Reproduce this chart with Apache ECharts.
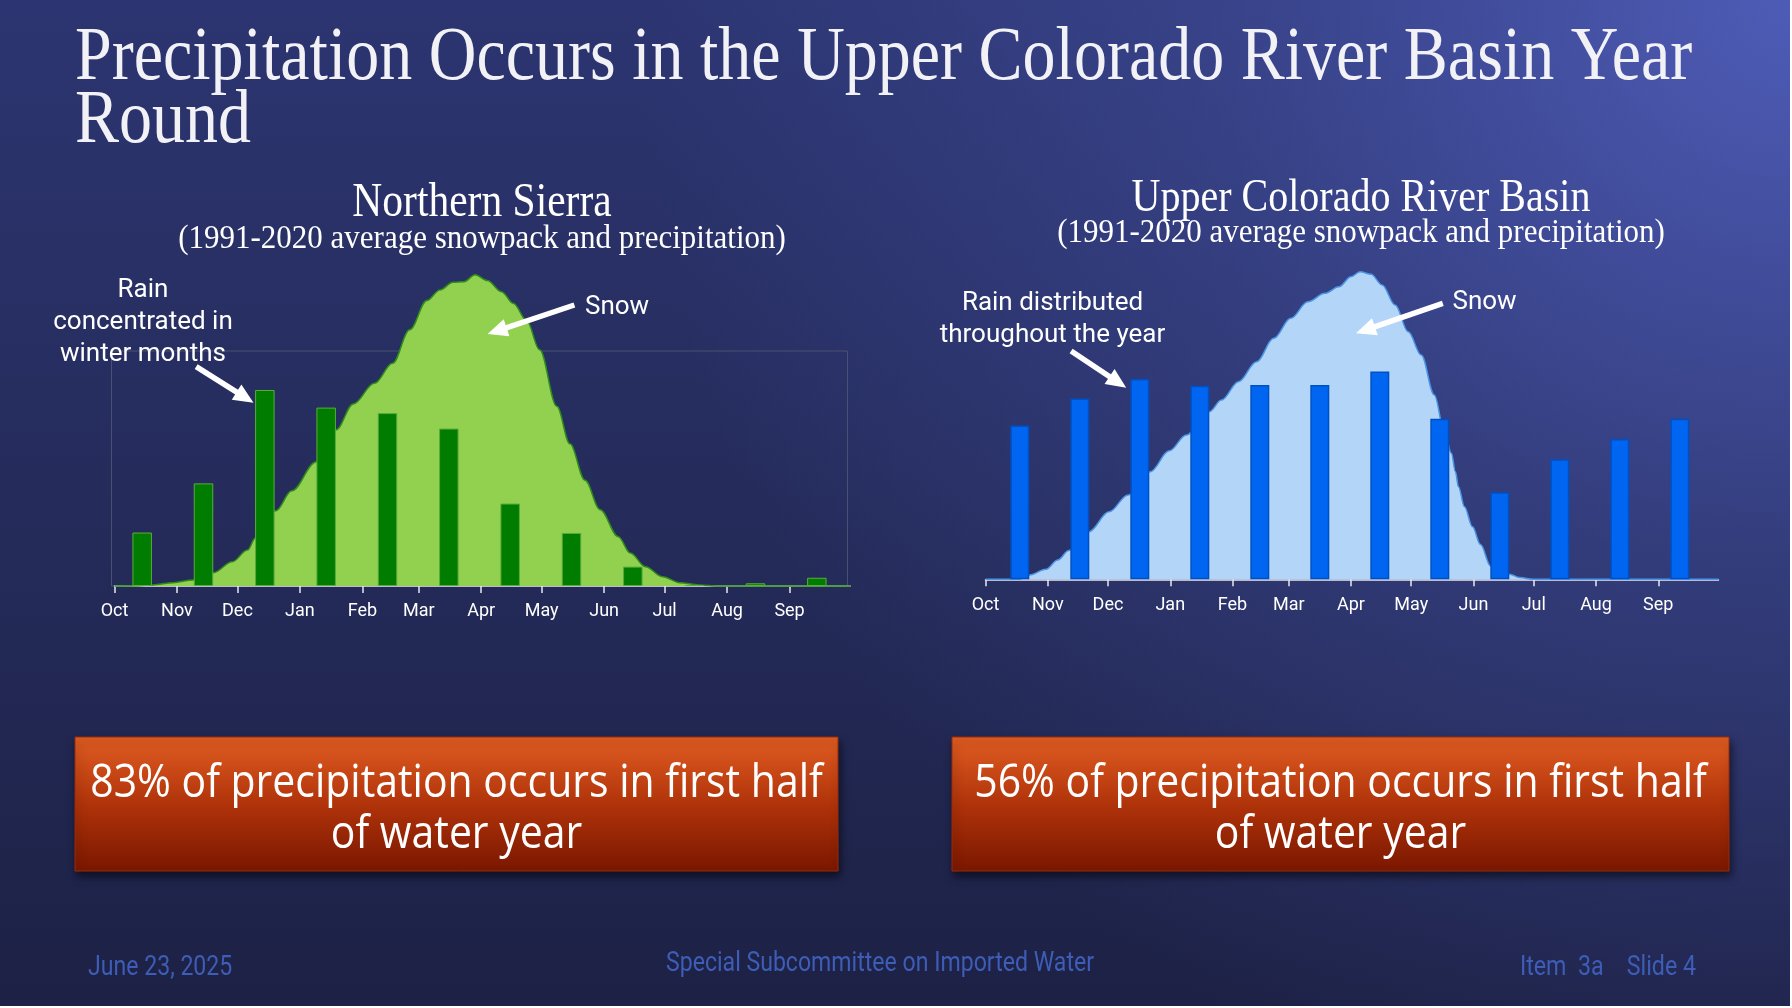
<!DOCTYPE html>
<html>
<head>
<meta charset="utf-8">
<title>Precipitation Occurs in the Upper Colorado River Basin Year Round</title>
<script src="https://cdn.jsdelivr.net/npm/echarts@6/dist/echarts.min.js"></script>
<style>
  html, body { margin: 0; padding: 0; background: #ffffff; }
  #chart { width: 1790px; height: 1006px; }
</style>
</head>
<body>
<div id="chart"></div>
<script>
// water year months and the day (from Oct 1) on which each one starts
const months = ['Oct', 'Nov', 'Dec', 'Jan', 'Feb', 'Mar', 'Apr', 'May', 'Jun', 'Jul', 'Aug', 'Sep'];
const monthStartDay = [0, 31, 61, 92, 123, 151, 182, 212, 243, 273, 304, 335];

// monthly precipitation, inches (1991-2020 average)
const sierraRain = [2.73, 5.24, 10.01, 9.11, 8.83, 8.04, 4.21, 2.71, 0.99, 0.05, 0.14, 0.42];
const coloradoRain = [2.05, 2.41, 2.67, 2.58, 2.59, 2.59, 2.77, 2.14, 1.16, 1.60, 1.87, 2.14];

// snowpack, inches of water, [day of water year, value]
const sierraSnow = [
  [0, 0], [12, 0.02], [19, 0.09], [29, 0.28], [39, 0.51], [49, 1.13], [58.5, 2.07],
  [66, 3.06], [70, 4.1], [80, 6.4], [88, 8.1], [100, 10.55], [110, 13.3], [118.5, 15.5],
  [129, 17.25], [138, 18.95], [146.5, 21.8], [155, 24.3], [161.5, 25.2], [168, 25.85],
  [173.5, 25.9], [179, 26.5], [185, 26.0], [192, 25.05], [198, 24.05], [204.5, 22.6],
  [211, 20.1], [219.5, 15.3], [226, 12.1], [233.5, 9.0], [241, 6.5], [250, 4.2],
  [256, 2.8], [263.5, 1.64], [272, 0.79], [280.5, 0.28], [290, 0.09], [300, 0], [365, 0]
];
const coloradoSnow = [
  [0, 0], [17, 0], [22, 0.23], [30, 0.53], [36, 1.03], [41.5, 1.53], [51.5, 2.54],
  [61.5, 3.6], [71, 4.5], [82, 5.74], [91.5, 6.85], [100, 7.7], [111.5, 8.94],
  [117.5, 9.56], [126, 10.54], [135, 11.6], [143.5, 12.85], [152, 13.92], [160.5, 14.8],
  [169, 15.25], [176, 15.6], [182, 16.14], [186.5, 16.4], [192, 16.27], [197.5, 15.7],
  [204, 14.63], [210.5, 13.2], [217, 11.96], [223.5, 9.83], [228.5, 7.87], [232, 6.72],
  [234, 5.74], [235.5, 4.94], [238.5, 3.87], [242.5, 2.8], [246.5, 1.85], [251.5, 0.71],
  [256, 0.4], [261, 0.27], [266, 0.09], [273, 0], [365, 0]
];

const chart = echarts.init(document.getElementById('chart'));

const SERIF = "'Liberation Serif', 'DejaVu Serif', serif";
const SANS = "Roboto, 'Noto Sans', sans-serif";
const BOXFONT = "'Open Sans', 'Noto Sans', sans-serif";
const footerColor = '#3d5db6';

// white arrow: shaft + filled head, tip at (x2, y2)
function arrow(x1, y1, x2, y2) {
  const dx = x2 - x1, dy = y2 - y1;
  const len = Math.sqrt(dx * dx + dy * dy);
  const ux = dx / len, uy = dy / len;
  const headLen = 20, headW = 9;
  const bx = x2 - ux * headLen, by = y2 - uy * headLen;
  return [
    {
      type: 'line', z: 20,
      shape: { x1: x1, y1: y1, x2: bx + ux * 2, y2: by + uy * 2 },
      style: { stroke: '#ffffff', lineWidth: 5.5 }
    },
    {
      type: 'polygon', z: 20,
      shape: { points: [[x2, y2], [bx - uy * headW, by + ux * headW], [bx + uy * headW, by - ux * headW]] },
      style: { fill: '#ffffff' }
    }
  ];
}

// text placed at (x, y); sx / sy stretch it around that anchor
function txt(text, x, y, size, family, opts, sx, sy) {
  return {
    type: 'text', z: 20,
    x: x, y: y, scaleX: sx || 1, scaleY: sy || 1,
    style: Object.assign({
      text: text, x: 0, y: 0,
      fill: '#ffffff',
      fontSize: size, fontFamily: family,
      align: 'center', verticalAlign: 'middle'
    }, opts || {})
  };
}

function box(x, y, w, h) {
  return {
    type: 'rect', z: 10,
    shape: { x: x, y: y, width: w, height: h },
    style: {
      fill: new echarts.graphic.LinearGradient(0, 0, 0, 1, [
        { offset: 0, color: '#e15d22' },
        { offset: 0.5, color: '#b0330a' },
        { offset: 1, color: '#7a1700' }
      ]),
      stroke: '#9a2a0a', lineWidth: 1,
      shadowColor: 'rgba(0,0,0,0.55)', shadowBlur: 8, shadowOffsetX: 2, shadowOffsetY: 5
    }
  };
}

const boxText = {
  lineHeight: 51,
  shadowColor: 'rgba(0,0,0,0.6)', shadowBlur: 3, shadowOffsetX: 2, shadowOffsetY: 2
};

function monthAxis(gridIndex, margin) {
  return {
    type: 'value', gridIndex: gridIndex, min: 0, max: 365,
    axisLine: { show: true, lineStyle: { color: '#e8e8f0', width: 1.5 } },
    axisTick: { show: true, customValues: monthStartDay, length: 7, lineStyle: { color: '#e8e8f0', width: 1.5 } },
    axisLabel: {
      customValues: monthStartDay, margin: margin,
      color: '#ffffff', fontSize: 18, fontFamily: SANS,
      formatter: function (v) { return months[monthStartDay.indexOf(v)]; }
    },
    splitLine: { show: false }
  };
}

function barAxis(gridIndex) {
  return { type: 'category', gridIndex: gridIndex, data: months, show: false, boundaryGap: true };
}

function hiddenY(gridIndex, max) {
  return { type: 'value', gridIndex: gridIndex, min: 0, max: max, show: false, splitLine: { show: false } };
}

const option = {
  backgroundColor: {
    type: 'linear', x: 0, y: 0, x2: 0, y2: 1,
    colorStops: [
      { offset: 0, color: '#2c3571' },
      { offset: 0.55, color: '#242b59' },
      { offset: 1, color: '#1d2145' }
    ]
  },
  animation: false,
  grid: [
    // Northern Sierra: bars + frame, then snow + month axis
    { left: 111.5, top: 351, width: 736, height: 235, show: true, borderColor: '#4a5170', borderWidth: 1, backgroundColor: 'transparent' },
    { left: 114.5, top: 351, width: 735.5, height: 235 },
    // Upper Colorado: bars, then snow + month axis
    { left: 989.8, top: 279.3, width: 720, height: 300 },
    { left: 985.5, top: 279.3, width: 733, height: 300 }
  ],
  xAxis: [barAxis(0), monthAxis(1, 16), barAxis(2), monthAxis(3, 17)],
  yAxis: [hiddenY(0, 12), hiddenY(1, 20), hiddenY(2, 4), hiddenY(3, 16)],
  series: [
    {
      name: 'Sierra snow', type: 'line', xAxisIndex: 1, yAxisIndex: 1, z: 1,
      data: sierraSnow, showSymbol: false, smooth: 0.35, smoothMonotone: 'x', clip: false,
      lineStyle: { color: '#2f8c1c', width: 1.5 },
      areaStyle: { color: '#92d050', opacity: 1 }
    },
    {
      name: 'Sierra rain', type: 'bar', xAxisIndex: 0, yAxisIndex: 0, z: 3,
      data: sierraRain, barWidth: 19.5,
      itemStyle: { color: '#007c00', borderColor: '#5cab3c', borderWidth: 1 }
    },
    {
      name: 'Colorado snow', type: 'line', xAxisIndex: 3, yAxisIndex: 3, z: 1,
      data: coloradoSnow, showSymbol: false, smooth: 0.35, smoothMonotone: 'x', clip: false,
      lineStyle: { color: '#4a94e8', width: 1.5 },
      areaStyle: { color: '#b3d5f7', opacity: 1 }
    },
    {
      name: 'Colorado rain', type: 'bar', xAxisIndex: 2, yAxisIndex: 2, z: 3,
      data: coloradoRain, barWidth: 19,
      itemStyle: { color: '#0066f2', borderColor: '#0050c4', borderWidth: 1.5 }
    }
  ],
  graphic: [
    // brighter glow in the upper right of the slide
    {
      type: 'rect', z: -10, silent: true,
      shape: { x: 0, y: 0, width: 1790, height: 1006 },
      style: {
        fill: new echarts.graphic.RadialGradient(1, 0, 1.15, [
          { offset: 0, color: 'rgba(80,94,186,0.95)' },
          { offset: 0.5, color: 'rgba(72,86,172,0.4)' },
          { offset: 1, color: 'rgba(72,86,172,0)' }
        ])
      }
    },

    txt('Precipitation Occurs in the Upper Colorado River Basin Year\nRound', 75, 27.5, 66, SERIF,
        { align: 'left', verticalAlign: 'top', lineHeight: 54.8, fill: '#f2f2f6' }, 1, 1.15),

    txt('Northern Sierra', 482, 203, 41.5, SERIF, null, 1, 1.15),
    txt('(1991-2020 average snowpack and precipitation)', 482, 239, 31, SERIF, null, 1, 1.12),
    txt('Upper Colorado River Basin', 1361, 198.5, 40, SERIF, null, 1, 1.15),
    txt('(1991-2020 average snowpack and precipitation)', 1361, 233, 31, SERIF, null, 1, 1.12),

    txt('Rain\nconcentrated in\nwinter months', 143, 322, 26, SANS, { lineHeight: 32 }),
    txt('Snow', 585, 307, 26, SANS, { align: 'left' }),
    txt('Rain distributed\nthroughout the year', 1052.5, 319, 26, SANS, { lineHeight: 32 }),
    txt('Snow', 1452.5, 302.5, 26, SANS, { align: 'left' }),
    ...arrow(196.2, 366.7, 253.5, 402.7),
    ...arrow(574.4, 305, 487.6, 334),
    ...arrow(1071.1, 351, 1126.2, 387.7),
    ...arrow(1442.8, 303.3, 1356, 333.3),

    box(75, 737, 763, 134),
    box(952, 737, 777, 134),
    txt('83% of precipitation occurs in first half\nof water year', 456.5, 809.5, 46, BOXFONT, boxText, 0.89, 1),
    txt('56% of precipitation occurs in first half\nof water year', 1340.5, 809.5, 46, BOXFONT, boxText, 0.89, 1),

    txt('June 23, 2025', 88, 968, 27, SANS, { align: 'left', fill: footerColor }, 0.855, 1),
    txt('Special Subcommittee on Imported Water', 880, 964, 27, SANS, { fill: footerColor }, 0.855, 1),
    txt('Item  3a    Slide 4', 1696, 968, 27, SANS, { align: 'right', fill: footerColor }, 0.86, 1)
  ]
};

chart.setOption(option);
</script>
</body>
</html>
